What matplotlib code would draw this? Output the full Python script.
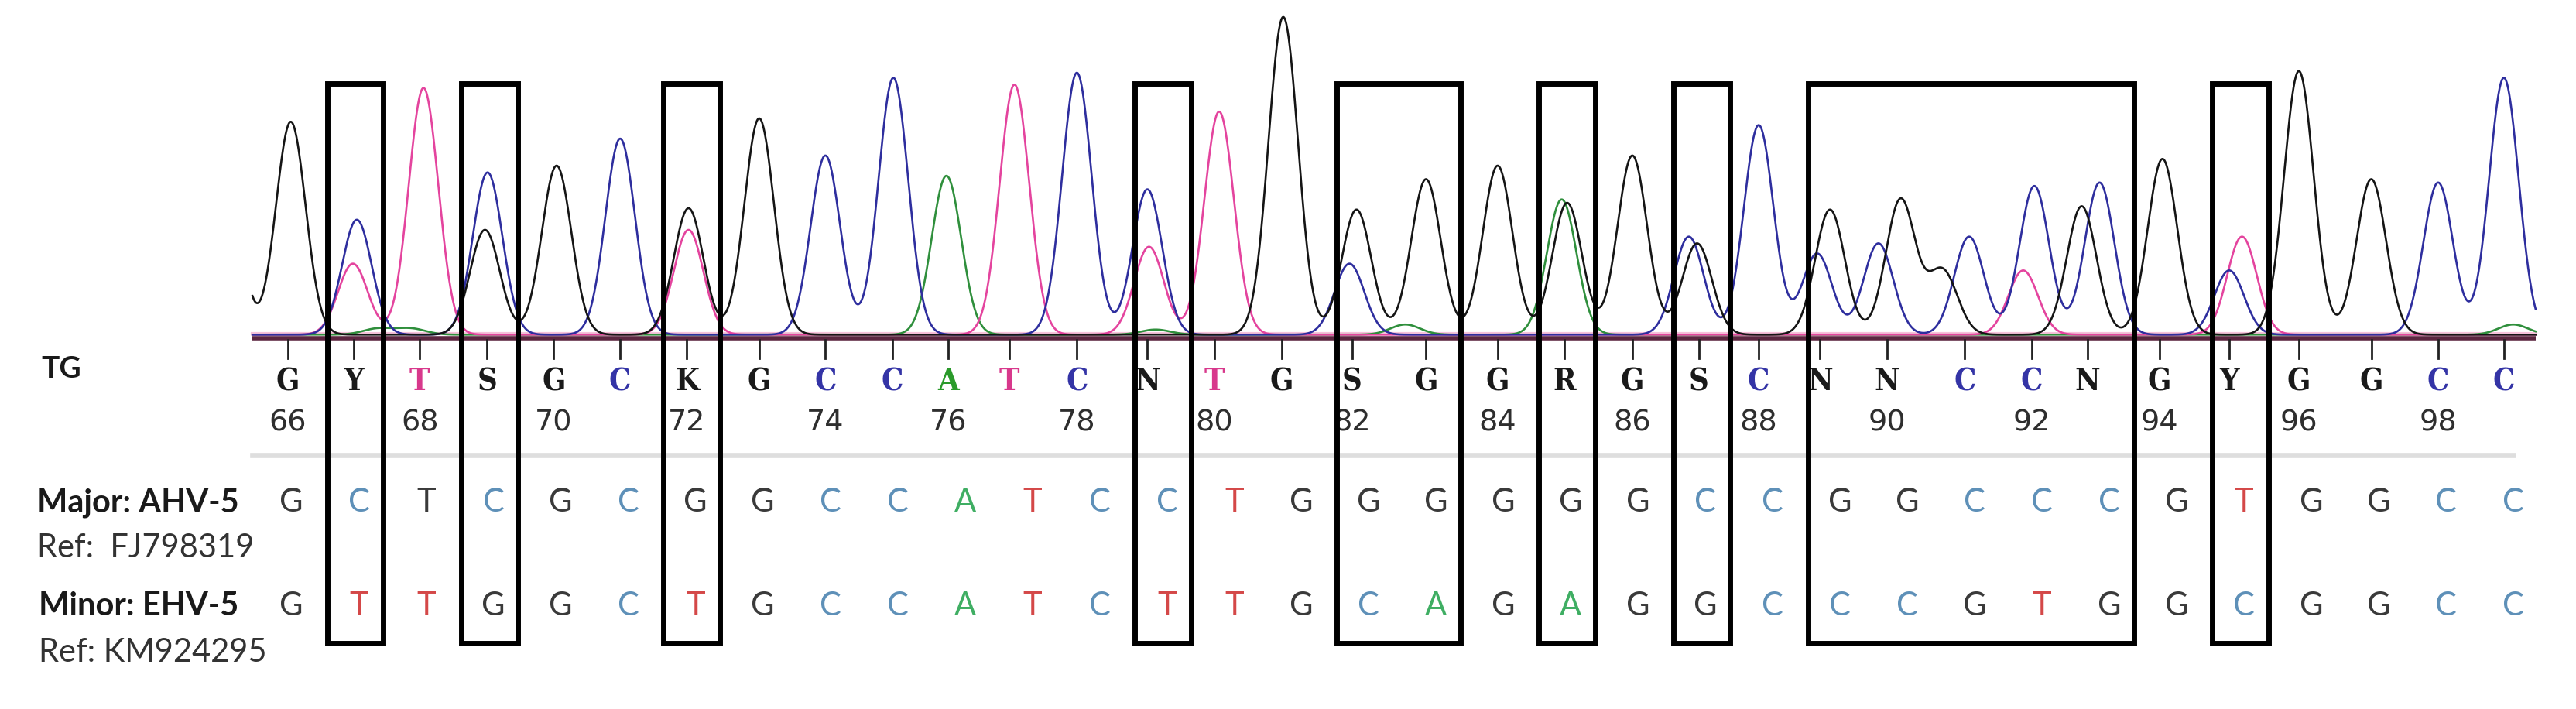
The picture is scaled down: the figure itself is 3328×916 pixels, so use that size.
import numpy as np
import matplotlib.pyplot as plt
from matplotlib.patches import Rectangle

# base calls read under the trace, positions 66..99
positions = list(range(66, 100))
calls = list("GYTSGCKGCCATCNTGSGGRGSCNNCCNGYGGCC")
call_scan = [175.2, 215.5, 255.5, 296.5, 337.1, 377.4, 418.1, 462.1, 502.4,
             543.1, 577.1, 614.2, 655.5, 698.4, 739.1, 780.1, 823.0, 868.0,
             911.6, 952.3, 993.6, 1034.0, 1070.5, 1107.8, 1148.5, 1195.9,
             1236.6, 1270.5, 1314.6, 1356.9, 1399.3, 1443.4, 1484.1, 1524.1]

# reference sequences
major = list("GCTCGCGGCCATCCTGGGGGGCCGGCCCGTGGCC")
minor = list("GTTGGCTGCCATCTTGCAGAGGCCCGTGGCGGCC")
major_plain = [68]  # letter drawn in plain dark grey in the major row
major_label = ["Major: AHV-5", "Ref:  FJ798319"]
minor_label = ["Minor: EHV-5", "Ref: KM924295"]

# chromatogram peaks: scan position, height (fraction of plot height)
g_scan = [135, 177.0, 295.2, 338.8, 419.1, 462.1, 781.1, 825.7, 868.0, 911.6,
          953.9, 993.6, 1033.0, 1113.9, 1156.9, 1182.4, 1267.1, 1316.3,
          1399.3, 1443.4]
g_h = [0.80, 0.63, 0.31, 0.50, 0.374, 0.64, 0.94, 0.37, 0.46, 0.50,
       0.39, 0.53, 0.27, 0.37, 0.40, 0.19, 0.38, 0.52, 0.78, 0.46]
c_scan = [217.2, 296.8, 377.5, 502.4, 543.8, 655.5, 698.4, 821.4, 1028.0,
          1070.5, 1106.1, 1143.4, 1198.6, 1238.3, 1278.0, 1356.9, 1484.1,
          1524.1]
c_h = [0.34, 0.48, 0.58, 0.53, 0.76, 0.775, 0.43, 0.21, 0.29,
       0.62, 0.24, 0.27, 0.29, 0.44, 0.45, 0.19, 0.45, 0.76]
t_scan = [214.8, 257.8, 419.1, 617.5, 699.4, 742.1, 1231.5, 1364.7]
t_h = [0.21, 0.73, 0.31, 0.74, 0.26, 0.66, 0.19, 0.29]
a_scan = [230.0, 250.0, 576.1, 703.4, 855.4, 950.6, 1529.8]
a_h = [0.018, 0.018, 0.47, 0.015, 0.03, 0.40, 0.03]

# boxed positions (first, last)
boxes = [(67, 67), (69, 69), (72, 72), (79, 79), (82, 83), (85, 85),
         (87, 87), (89, 93), (95, 95)]

W, H = 1568, 431.6
base_y = 205.7
sigma = 9.0
scan_lo, scan_hi = 153.7, 1543.4

call_col = {"C": "#3434a6", "A": "#2a9a2a", "T": "#d8388c"}
row_col = {"C": "#5e90b8", "A": "#3fae63", "T": "#d44848", "G": "#3a3a3a"}
trace_col = {"G": "#151515", "C": "#2e2e9e", "T": "#e4449e", "A": "#2f8f3c"}

fig = plt.figure(figsize=(33.28, 9.16), dpi=100)
ax = fig.add_axes([0, 0, 1, 1])
ax.set_xlim(0, W)
ax.set_ylim(H, 0)
ax.axis("off")

# traces
xs = np.linspace(scan_lo, scan_hi, 4000)
for dye, sc, hh in [("A", a_scan, a_h), ("T", t_scan, t_h),
                    ("C", c_scan, c_h), ("G", g_scan, g_h)]:
    sig = np.zeros_like(xs)
    for s, h in zip(sc, hh):
        sig += h * np.exp(-(xs - s) ** 2 / (2 * sigma ** 2))
    ax.plot(xs, base_y - 2 - sig * base_y, color=trace_col[dye], lw=1.9,
            zorder=3)

# baseline
ax.plot([scan_lo, scan_hi], [base_y - 2.5, base_y - 2.5], color="#f6c2da",
        lw=3, zorder=2)
ax.plot([scan_lo, scan_hi], [base_y, base_y], color="#5c2640", lw=4,
        zorder=4, solid_capstyle="butt")

# ticks, base calls, numbers
for p, b, s in zip(positions, calls, call_scan):
    ax.plot([s, s], [base_y + 1, 218], color="#222222", lw=2, zorder=4)
    ax.text(s, 232.5, b, ha="center", va="center", fontsize=28.5,
            family="DejaVu Serif", weight="bold", stretch="condensed",
            color=call_col.get(b, "#1a1a1a"))
    if p % 2 == 0:
        ax.text(s, 257.3, str(p), ha="center", va="center", fontsize=27.5,
                family="DejaVu Sans", color="#2e2e2e")

# grey separator
ax.plot([153.5, 1530], [276.9, 276.9], color="#dedede", lw=4.8, zorder=1)

# reference rows on a regular grid
grid0, step = 177.5, 40.98
for k, (b1, b2) in enumerate(zip(major, minor)):
    x = grid0 + step * k
    c1 = "#3a3a3a" if positions[k] in major_plain else row_col[b1]
    ax.text(x, 306, b1, ha="center", va="center", fontsize=30,
            family="Lato", color=c1)
    ax.text(x, 368.8, b2, ha="center", va="center", fontsize=30,
            family="Lato", color=row_col[b2])

ax.text(25.3, 224.3, "TG", ha="left", va="center", fontsize=28,
        family="Lato", weight="bold", color="#1a1a1a")
ax.text(22.6, 306, major_label[0], ha="left", va="center", fontsize=30,
        family="Lato", weight="bold", color="#1a1a1a")
ax.text(22.6, 333.4, major_label[1], ha="left", va="center", fontsize=30,
        family="Lato", color="#333333")
ax.text(23.5, 368.8, minor_label[0], ha="left", va="center", fontsize=30,
        family="Lato", weight="bold", color="#1a1a1a")
ax.text(23.5, 397, minor_label[1], ha="left", va="center", fontsize=30,
        family="Lato", color="#333333")

# boxes around the variable positions
for b_first, b_last in boxes:
    x0 = grid0 + step * (b_first - 66) - 19.4
    x1 = grid0 + step * (b_last - 66) + 14.9
    ax.add_patch(Rectangle((x0, 51), x1 - x0, 391.5 - 51, fill=False,
                           edgecolor="black", lw=5, joinstyle="miter",
                           zorder=6))

fig.savefig("out.png", dpi=100)
